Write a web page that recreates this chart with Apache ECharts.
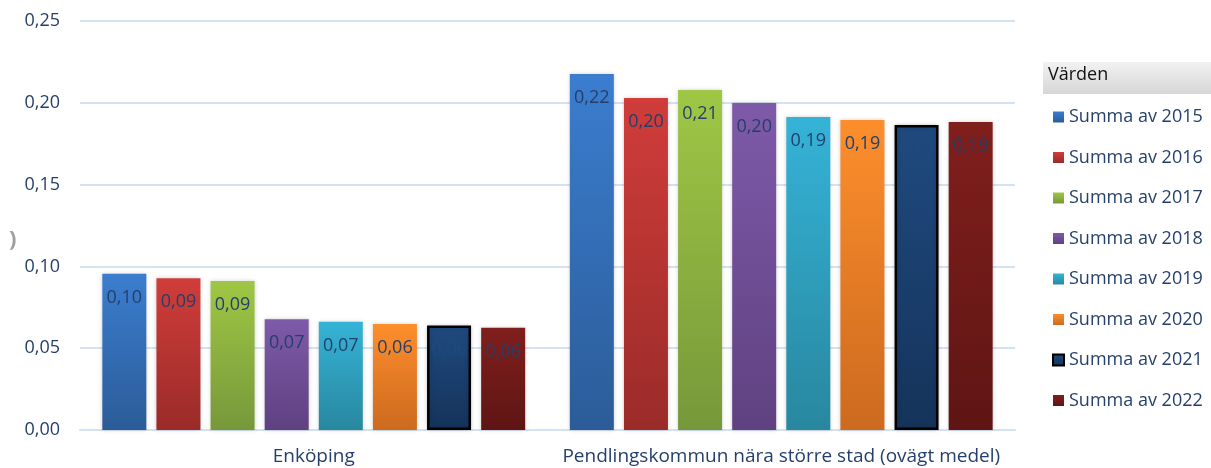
<!DOCTYPE html>
<html>
<head>
<meta charset="utf-8">
<script src="https://cdn.jsdelivr.net/npm/echarts@6/dist/echarts.min.js"></script>
<style>
  html, body { margin: 0; padding: 0; background: #fff; }
  #chart { width: 1211px; height: 468px; }
</style>
</head>
<body>
<div id="chart"></div>
<script>
// categories and values
const categories = ["Enköping", "Pendlingskommun nära större stad (ovägt medel)"];
const seriesNames = [
  "Summa av 2015", "Summa av 2016", "Summa av 2017", "Summa av 2018",
  "Summa av 2019", "Summa av 2020", "Summa av 2021", "Summa av 2022"
];
const v2015 = [0.0955, 0.2176];
const v2016 = [0.0927, 0.2029];
const v2017 = [0.0911, 0.2078];
const v2018 = [0.0677, 0.1999];
const v2019 = [0.0662, 0.1913];
const v2020 = [0.0648, 0.1895];
const v2021 = [0.0638, 0.1864];
const v2022 = [0.0625, 0.1883];
const allValues = [v2015, v2016, v2017, v2018, v2019, v2020, v2021, v2022];
const yTicks = ["0,00", "0,05", "0,10", "0,15", "0,20", "0,25"];

// top / bottom gradient colours per year
const colorTop = ["#3b7dcf", "#d03d3a", "#9fc745", "#7e5aa9", "#35b3d7", "#fd8e2c", "#1f4a7f", "#801f1c"];
const colorBottom = ["#2b5c98", "#9a2b29", "#77983a", "#5f4180", "#28879f", "#cc6a1f", "#15335a", "#5e1514"];

const labelColor = "#243f6b";
const fontFamily = "'Open Sans', 'DejaVu Sans', sans-serif";

const chart = echarts.init(document.getElementById("chart"), null, { renderer: "canvas" });

const series = allValues.map((vals, i) => ({
  name: seriesNames[i],
  type: "bar",
  data: vals,
  barWidth: 44,
  barGap: "23%",
  itemStyle: {
    color: {
      type: "linear", x: 0, y: 0, x2: 0, y2: 1,
      colorStops: [
        { offset: 0, color: colorTop[i] },
        { offset: 1, color: colorBottom[i] },
      ],
    },
    borderColor: i === 6 ? "#000" : "transparent",
    borderWidth: i === 6 ? 2.5 : 0,
    shadowColor: "rgba(0,0,0,0.18)",
    shadowBlur: 4,
  },
  label: {
    show: true,
    position: "insideTop",
    distance: 15,
    color: i === 6 ? "#1f4a7f" : labelColor,
    fontFamily: fontFamily,
    fontSize: 18,
    formatter: (p) => p.value.toFixed(2).replace(".", ","),
  },
}));

chart.setOption({
  animation: false,
  grid: { left: 80, right: 196, top: 21, bottom: 38 },
  legend: {
    orient: "vertical",
    left: 1047,
    top: 103,
    itemWidth: 11,
    itemHeight: 11,
    itemGap: 22.5,
    icon: "rect",
    data: seriesNames.map((n, i) => ({
      name: n,
      itemStyle: i === 6 ? { borderColor: "#000", borderWidth: 2 } : {},
    })),
    textStyle: { color: labelColor, fontFamily: fontFamily, fontSize: 18 },
  },
  xAxis: {
    type: "category",
    data: categories,
    axisTick: { show: false },
    axisLine: { lineStyle: { color: "#d5e2f2", width: 2 } },
    axisLabel: { interval: 0, color: labelColor, fontFamily: fontFamily, fontSize: 19, margin: 17 },
  },
  yAxis: {
    type: "value",
    min: 0,
    max: 0.25,
    interval: 0.05,
    axisLine: { show: false },
    axisTick: { show: false },
    splitLine: { lineStyle: { color: "#d5e2f2", width: 2 } },
    axisLabel: {
      color: labelColor, fontFamily: fontFamily, fontSize: 18, margin: 20,
      formatter: (v) => yTicks[Math.round(v / 0.05)],
    },
  },
  graphic: [
    {
      type: "rect",
      left: 1043, top: 62,
      shape: { width: 168, height: 32 },
      style: {
        fill: {
          type: "linear", x: 0, y: 0, x2: 0, y2: 1,
          colorStops: [{ offset: 0, color: "#f2f2f2" }, { offset: 1, color: "#d6d6d6" }],
        },
      },
    },
    {
      type: "text",
      left: 1048, top: 66,
      style: { text: "Värden", fill: "#111", font: "18px " + fontFamily },
    },
    {
      type: "text",
      left: 9, top: 229,
      style: { text: ")", fill: "#a0a0a0", font: "bold 22px " + fontFamily },
    },
  ],
  series: series,
});
</script>
</body>
</html>
